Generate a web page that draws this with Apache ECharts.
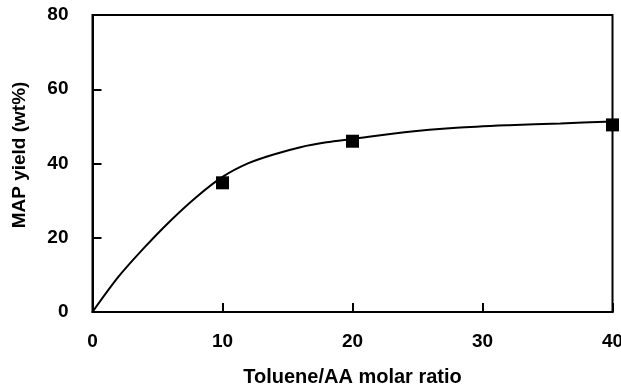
<!DOCTYPE html>
<html>
<head>
<meta charset="utf-8">
<script src="https://cdn.jsdelivr.net/npm/echarts@6/dist/echarts.min.js"></script>
<style>html,body{margin:0;padding:0;background:#fff;}#c{width:621px;height:385px;}</style>
</head>
<body>
<div id="c"></div>
<script>
// Measured points
const ratioPoints = [10, 20, 40];
const yieldPoints = [34.8, 46.0, 50.4];
// Fitted curve
const curveX = [0, 2, 4, 6, 8, 10, 12, 14, 16, 18, 20, 24, 28, 32, 36, 40];
const curveY = [0, 9.5, 17.4, 24.6, 31.0, 36.4, 40.1, 42.5, 44.4, 45.7, 46.6, 48.4, 49.6, 50.3, 50.8, 51.3];
const xTicks = [0, 10, 20, 30, 40];
const yTicks = [0, 20, 40, 60, 80];
const xTitle = 'Toluene/AA molar ratio';
const yTitle = 'MAP yield (wt%)';

const FONT = '"Liberation Sans", Arial, sans-serif';
const chart = echarts.init(document.getElementById('c'));
chart.setOption({
  animation: false,
  backgroundColor: '#fff',
  grid: {left: 92.5, right: 8.5, top: 15, bottom: 73, outerBoundsMode: 'none', containLabel: false,
         show: true, borderColor: '#000', borderWidth: 2, backgroundColor: 'transparent'},
  xAxis: {
    type: 'value', min: xTicks[0], max: xTicks[xTicks.length - 1], interval: 10,
    name: xTitle, nameLocation: 'middle', nameGap: 55,
    nameTextStyle: {fontFamily: FONT, fontWeight: 'bold', fontSize: 20, color: '#000'},
    axisLine: {show: true, lineStyle: {color: '#000', width: 2}},
    axisTick: {show: true, inside: true, length: 9, lineStyle: {color: '#000', width: 2}},
    axisLabel: {fontFamily: FONT, fontWeight: 'bold', fontSize: 19, color: '#000', margin: 20},
    splitLine: {show: false}
  },
  yAxis: {
    type: 'value', min: yTicks[0], max: yTicks[yTicks.length - 1], interval: 20,
    name: yTitle, nameLocation: 'middle', nameGap: 63, nameRotate: 90,
    nameTextStyle: {fontFamily: FONT, fontWeight: 'bold', fontSize: 19, color: '#000', padding: [0, 0, 0, 17]},
    axisLine: {show: true, lineStyle: {color: '#000', width: 2}},
    axisTick: {show: true, inside: true, length: 9, lineStyle: {color: '#000', width: 2}},
    axisLabel: {fontFamily: FONT, fontWeight: 'bold', fontSize: 19, color: '#000', margin: 24},
    splitLine: {show: false}
  },
  series: [
    {
      type: 'line', smooth: 0.3, showSymbol: false,
      data: curveX.map((x, i) => [x, curveY[i]]),
      lineStyle: {color: '#000', width: 2}, z: 2
    },
    {
      type: 'scatter', symbol: 'rect', symbolSize: 13,
      data: ratioPoints.map((x, i) => [x, yieldPoints[i]]),
      itemStyle: {color: '#000', opacity: 1}, z: 3
    }
  ]
});
</script>
</body>
</html>
